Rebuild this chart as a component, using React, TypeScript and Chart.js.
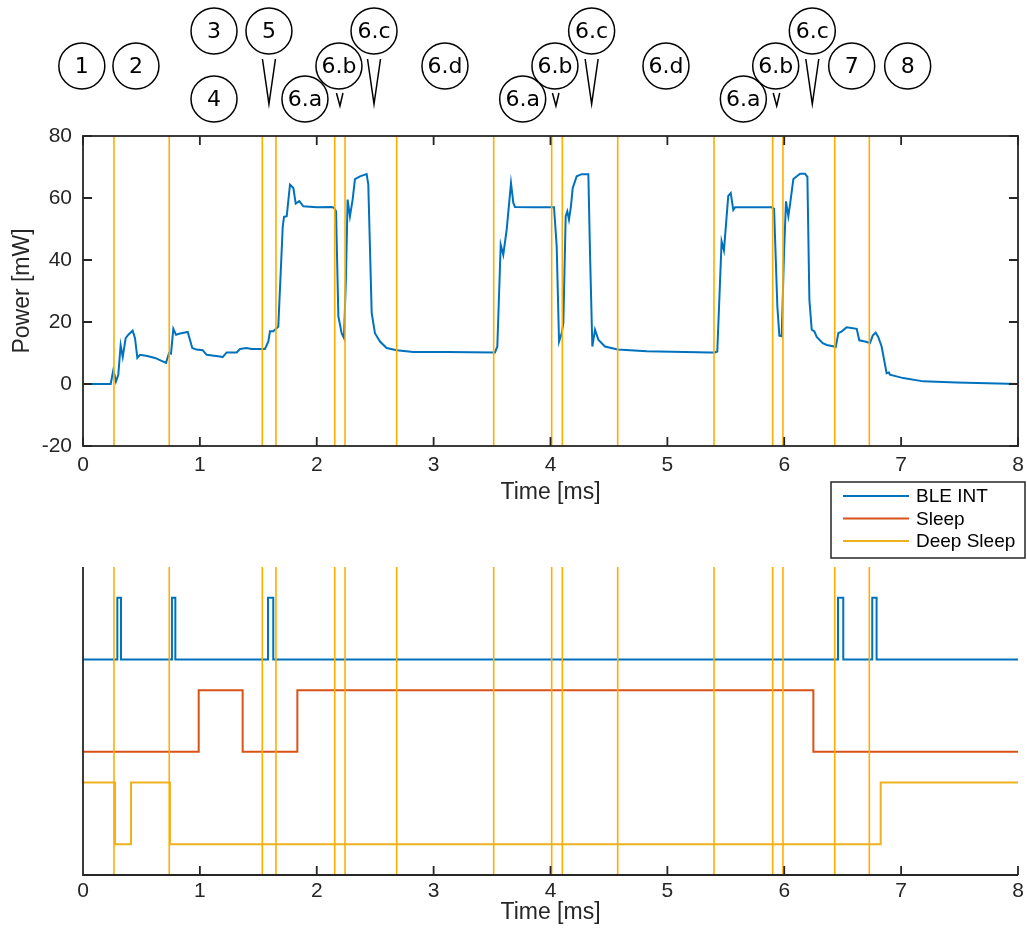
import React, { useEffect, useRef } from 'react';
import { Chart, registerables } from 'chart.js';

Chart.register(...registerables);

// ---------- data ----------
const powerTimes = [
  0, 0.237, 0.26, 0.282, 0.302, 0.322, 0.34, 0.365, 0.388, 0.425, 0.445, 0.465, 0.488, 0.55, 0.616, 0.71,
  0.736, 0.753, 0.773, 0.796, 0.83, 0.896, 0.935, 0.97, 1.024, 1.058, 1.172, 1.195, 1.229, 1.315, 1.343,
  1.4, 1.443, 1.557, 1.586, 1.6, 1.628, 1.657, 1.671, 1.709, 1.72, 1.743, 1.771, 1.8, 1.82, 1.851, 1.885,
  2.0, 2.128, 2.148, 2.165, 2.185, 2.213, 2.233, 2.25, 2.264, 2.284, 2.307, 2.327, 2.37, 2.427, 2.441,
  2.47, 2.498, 2.541, 2.598, 2.684, 2.826, 3.11, 3.525, 3.545, 3.574, 3.596, 3.625, 3.662, 3.682, 3.696,
  3.85, 4.01, 4.03, 4.053, 4.073, 4.096, 4.11, 4.13, 4.144, 4.158, 4.175, 4.19, 4.224, 4.267, 4.324,
  4.338, 4.358, 4.381, 4.409, 4.466, 4.575, 4.823, 5.365, 5.407, 5.427, 5.464, 5.484, 5.521, 5.542,
  5.564, 5.579, 5.75, 5.893, 5.913, 5.941, 5.958, 5.978, 5.998, 6.015, 6.035, 6.049, 6.078, 6.135,
  6.178, 6.198, 6.215, 6.235, 6.257, 6.278, 6.329, 6.364, 6.426, 6.44, 6.463, 6.492, 6.534, 6.62,
  6.642, 6.691, 6.734, 6.757, 6.782, 6.804, 6.833, 6.876, 6.896, 6.904, 7.018, 7.19, 7.475, 8.0,
];
const powerValues = [
  0, 0, 4.6, 0.8, 3, 12.5, 8.7, 14.8, 15.9, 17.2, 14.8, 8.4, 9.4, 9.0, 8.4, 6.8,
  10, 9.8, 17.8, 15.9, 16.3, 16.8, 11.6, 11.1, 10.9, 9.4, 8.9, 8.7, 10.2, 10.2, 11.3,
  11.6, 11.3, 11.3, 13.7, 17, 17, 18, 18.5, 50.8, 53.9, 54.1, 64.3, 63.2, 58.2, 59, 57.3,
  57.0, 57.1, 56.8, 55.7, 21.8, 16.4, 14.8, 34.7, 59.5, 54.1, 59.5, 66.1, 67, 67.7, 64.3,
  22.9, 16.4, 13.7, 11.6, 10.9, 10.3, 10.3, 10.2, 12.1, 44.9, 41.7, 49.8, 64.8, 58.4, 57.1,
  57.0, 57, 57, 44.4, 13.7, 16.4, 19.7, 54.1, 55.7, 53, 57.3, 63.2, 67, 67.7, 67.7,
  42.3, 12.1, 17.5, 14.3, 12.1, 11.1, 10.6, 10.2, 10.2, 10.5, 46, 43.1, 60.7, 61.6,
  56.2, 57, 57, 57, 56.5, 25, 15.6, 15.4, 42.3, 58.9, 54.1, 57.8, 66.1, 67.8,
  67.8, 66.8, 27.2, 17.5, 17, 15.2, 13.2, 12.6, 12.1, 11.9, 16.4, 17, 18.3, 17.8,
  14.1, 13.7, 13.2, 15.6, 16.6, 15.2, 12.1, 3.5, 3.7, 3, 1.9, 0.85, 0.5, 0,
];

const markerTimes = [
  0.265, 0.738, 1.534, 1.651, 2.154, 2.242, 2.684, 3.514, 4.01, 4.101, 4.575, 5.399, 5.901, 5.989, 6.432, 6.728,
];

const seriesNames = ['BLE INT', 'Sleep', 'Deep Sleep'];
const bleTimes = [0, 0.294, 0.325, 0.761, 0.79, 1.583, 1.628, 6.46, 6.505, 6.753, 6.79, 8];
const bleStates = [0, 1, 0, 1, 0, 1, 0, 1, 0, 1, 0, 0];
const sleepTimes = [0, 0.99, 1.366, 1.834, 6.249, 8];
const sleepStates = [0, 1, 0, 1, 0, 0];
const deepTimes = [0, 0.274, 0.411, 0.744, 6.825, 8];
const deepStates = [1, 0, 1, 0, 1, 1];
const stateOffsets = [3, 1.5, 0];

const annotationLabels = ['1', '2', '3', '4', '5', '6.a', '6.b', '6.c', '6.d', '6.a', '6.b', '6.c', '6.d', '6.a', '6.b', '6.c', '7', '8'];
const annotationTimes = [-0.01, 0.453, 1.121, 1.121, 1.591, 1.899, 2.19, 2.49, 3.097, 3.762, 4.038, 4.352, 4.988, 5.65, 5.927, 6.24, 6.577, 7.056];
const annotationRows = [1, 1, 0, 2, 0, 2, 1, 0, 1, 2, 1, 0, 1, 2, 1, 0, 1, 1];
const annotationPointers = ['', '', '', '', 'long', '', 'short', 'long', '', '', 'short', 'long', '', '', 'short', 'long', '', ''];

const xAxisTitle = 'Time [ms]';
const yAxisTitle = 'Power [mW]';

// ---------- styles ----------
const W = 1027;
const H = 935;
const AXIS = '#262626';
const BLUE = '#0072BD';
const RED = '#D95319';
const YELLOW = '#EDB120';
const MARKER = '#FFAE00';
const SANS = '"Liberation Sans", Arial, Helvetica, sans-serif';
const tickFont = { family: SANS, size: 21 };
const titleFont = { family: SANS, size: 23 };
const rowY = [31, 66, 99];

const markerData = (lo: number, hi: number) =>
  markerTimes.flatMap((t) => [
    { x: t, y: lo },
    { x: t, y: hi },
    { x: t, y: null as any },
  ]);

const fitX = (h: number) => (s: any) => {
  s.height = h;
  s.paddingLeft = 0;
  s.paddingRight = 0;
};
const fitY = (s: any) => {
  s.width = 83;
  s.paddingTop = 0;
  s.paddingBottom = 0;
};

const topPlugin = {
  id: 'topFrame',
  afterDatasetsDraw(chart: any) {
    const { ctx, chartArea: a, scales } = chart;
    ctx.save();
    ctx.strokeStyle = AXIS;
    ctx.lineWidth = 1.8;
    ctx.strokeRect(a.left, a.top, a.right - a.left, a.bottom - a.top);
    ctx.beginPath();
    for (const t of scales.x.ticks) {
      const px = scales.x.getPixelForValue(t.value);
      ctx.moveTo(px, a.bottom);
      ctx.lineTo(px, a.bottom - 9);
      ctx.moveTo(px, a.top);
      ctx.lineTo(px, a.top + 9);
    }
    for (const t of scales.y.ticks) {
      const py = scales.y.getPixelForValue(t.value);
      ctx.moveTo(a.left, py);
      ctx.lineTo(a.left + 9, py);
      ctx.moveTo(a.right, py);
      ctx.lineTo(a.right - 9, py);
    }
    ctx.stroke();
    ctx.restore();
  },
  afterDraw(chart: any) {
    const { ctx, scales } = chart;
    ctx.save();
    ctx.strokeStyle = '#000';
    ctx.lineWidth = 1.5;
    ctx.fillStyle = '#000';
    ctx.font = '22px "DejaVu Sans", sans-serif';
    ctx.textAlign = 'center';
    ctx.textBaseline = 'middle';
    annotationLabels.forEach((lab, i) => {
      const x = scales.x.getPixelForValue(annotationTimes[i]);
      const y = rowY[annotationRows[i]];
      ctx.beginPath();
      ctx.arc(x, y, 23, 0, Math.PI * 2);
      ctx.fillStyle = '#fff';
      ctx.fill();
      ctx.stroke();
      ctx.fillStyle = '#000';
      ctx.fillText(lab, x, y + 1);
      const p = annotationPointers[i];
      if (p === 'long') {
        ctx.beginPath();
        ctx.moveTo(x - 6.5, 59);
        ctx.lineTo(x, 104);
        ctx.lineTo(x + 6.5, 59);
        ctx.stroke();
      } else if (p === 'short') {
        ctx.beginPath();
        ctx.moveTo(x - 2.5, 93);
        ctx.lineTo(x + 1, 106);
        ctx.lineTo(x + 4, 93);
        ctx.stroke();
      }
    });
    ctx.restore();
  },
};

const bottomPlugin = {
  id: 'bottomFrame',
  afterDatasetsDraw(chart: any) {
    const { ctx, chartArea: a, scales } = chart;
    ctx.save();
    ctx.strokeStyle = AXIS;
    ctx.lineWidth = 1.8;
    ctx.beginPath();
    ctx.moveTo(a.left, a.top);
    ctx.lineTo(a.left, a.bottom);
    ctx.lineTo(a.right, a.bottom);
    for (const t of scales.x.ticks) {
      const px = scales.x.getPixelForValue(t.value);
      ctx.moveTo(px, a.bottom);
      ctx.lineTo(px, a.bottom - 9);
    }
    ctx.stroke();
    ctx.restore();
  },
  afterDraw(chart: any) {
    const { ctx } = chart;
    ctx.save();
    const bx = 831, by = 482, bw = 194, bh = 76;
    ctx.fillStyle = '#fff';
    ctx.fillRect(bx, by, bw, bh);
    ctx.strokeStyle = AXIS;
    ctx.lineWidth = 1.5;
    ctx.strokeRect(bx, by, bw, bh);
    const items = chart.data.datasets.filter((d: any) => seriesNames.includes(d.label));
    ctx.font = `19px ${SANS}`;
    ctx.textBaseline = 'middle';
    ctx.textAlign = 'left';
    items.forEach((d: any, i: number) => {
      const y = by + 14 + i * 22.5;
      ctx.strokeStyle = d.borderColor;
      ctx.lineWidth = 2;
      ctx.beginPath();
      ctx.moveTo(843, y);
      ctx.lineTo(909, y);
      ctx.stroke();
      ctx.fillStyle = '#000';
      ctx.fillText(d.label, 916, y + 1);
    });
    ctx.restore();
  },
};

export default function App() {
  const topRef = useRef<HTMLCanvasElement>(null);
  const botRef = useRef<HTMLCanvasElement>(null);

  useEffect(() => {
    const topChart = new Chart(topRef.current as HTMLCanvasElement, {
      type: 'line',
      data: {
        datasets: [
          {
            label: 'markers',
            data: markerData(-20, 80),
            borderColor: MARKER,
            borderWidth: 1.6,
            pointRadius: 0,
            spanGaps: false,
            order: 0,
          },
          {
            label: 'Power',
            data: powerTimes.map((t, i) => ({ x: t, y: powerValues[i] })),
            borderColor: BLUE,
            borderWidth: 2,
            pointRadius: 0,
            tension: 0,
            order: 1,
          },
        ],
      },
      options: {
        animation: false,
        responsive: false,
        maintainAspectRatio: false,
        layout: { padding: { left: 0, top: 136, right: 9, bottom: H - 446 - 70 } },
        plugins: { legend: { display: false }, tooltip: { enabled: false } },
        scales: {
          x: {
            type: 'linear',
            min: 0,
            max: 8,
            afterFit: fitX(70),
            grid: { display: false, drawTicks: false },
            border: { display: false },
            ticks: { stepSize: 1, font: tickFont, color: AXIS, padding: 7, maxRotation: 0, autoSkip: false },
            title: { display: true, text: xAxisTitle, font: titleFont, color: AXIS, padding: { top: 0, bottom: 10 } },
          },
          y: {
            type: 'linear',
            min: -20,
            max: 80,
            afterFit: fitY,
            grid: { display: false, drawTicks: false },
            border: { display: false },
            ticks: { stepSize: 20, font: tickFont, color: AXIS, padding: 11 },
            title: { display: true, text: yAxisTitle, font: titleFont, color: AXIS, padding: { top: 9, bottom: 0 } },
          },
        },
      },
      plugins: [topPlugin],
    });

    const stepData = (times: number[], states: number[], off: number) =>
      times.map((t, i) => ({ x: t, y: states[i] + off }));

    const botChart = new Chart(botRef.current as HTMLCanvasElement, {
      type: 'line',
      data: {
        datasets: [
          {
            label: 'markers',
            data: markerData(-0.5, 4.5),
            borderColor: MARKER,
            borderWidth: 1.6,
            pointRadius: 0,
            spanGaps: false,
            order: 0,
          },
          {
            label: seriesNames[0],
            data: stepData(bleTimes, bleStates, stateOffsets[0]),
            borderColor: BLUE,
            borderWidth: 2,
            pointRadius: 0,
            stepped: 'before',
            order: 1,
          },
          {
            label: seriesNames[1],
            data: stepData(sleepTimes, sleepStates, stateOffsets[1]),
            borderColor: RED,
            borderWidth: 2,
            pointRadius: 0,
            stepped: 'before',
            order: 2,
          },
          {
            label: seriesNames[2],
            data: stepData(deepTimes, deepStates, stateOffsets[2]),
            borderColor: YELLOW,
            borderWidth: 2,
            pointRadius: 0,
            stepped: 'before',
            order: 3,
          },
        ],
      },
      options: {
        animation: false,
        responsive: false,
        maintainAspectRatio: false,
        layout: { padding: { left: 0, top: 567, right: 9, bottom: 0 } },
        plugins: { legend: { display: false }, tooltip: { enabled: false } },
        scales: {
          x: {
            type: 'linear',
            min: 0,
            max: 8,
            afterFit: fitX(60),
            grid: { display: false, drawTicks: false },
            border: { display: false },
            ticks: { stepSize: 1, font: tickFont, color: AXIS, padding: 4, maxRotation: 0, autoSkip: false },
            title: { display: true, text: xAxisTitle, font: titleFont, color: AXIS, padding: { top: 0, bottom: 9 } },
          },
          y: {
            type: 'linear',
            min: -0.5,
            max: 4.5,
            afterFit: fitY,
            grid: { display: false, drawTicks: false },
            border: { display: false },
            ticks: { display: false },
          },
        },
      },
      plugins: [bottomPlugin],
    });

    return () => {
      topChart.destroy();
      botChart.destroy();
    };
  }, []);

  return (
    <div style={{ position: 'absolute', left: 0, top: 0, width: W, height: H, background: '#fff' }}>
      <canvas ref={topRef} width={W} height={H} style={{ position: 'absolute', left: 0, top: 0 }} />
      <canvas ref={botRef} width={W} height={H} style={{ position: 'absolute', left: 0, top: 0 }} />
    </div>
  );
}
